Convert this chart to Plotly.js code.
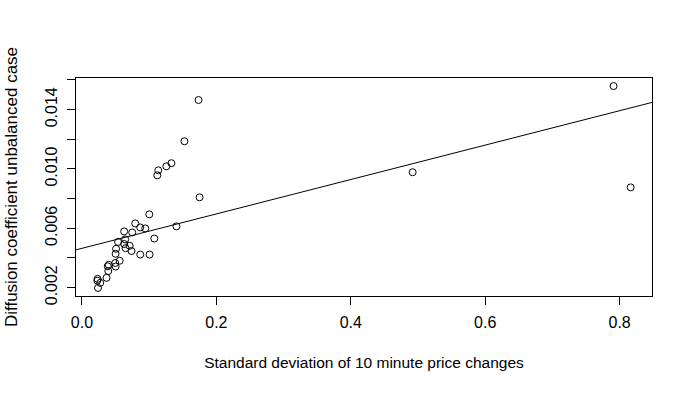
<!DOCTYPE html>
<html>
<head>
<meta charset="utf-8">
<script src="https://cdn.plot.ly/plotly-3.0.1.min.js"></script>
<style>
  html, body { margin: 0; padding: 0; background: #fff; }
  #chart { width: 692px; height: 393px; }
</style>
</head>
<body>
<div id="chart"></div>
<script>
  // standard deviation of 10 minute price changes
  const sdChanges = [
    0.1735, 0.1525, 0.1331, 0.1256, 0.1136, 0.1121, 0.1750,
    0.7910, 0.8164, 0.4920,
    0.1002, 0.0793, 0.0867, 0.0942, 0.1406, 0.0628, 0.0748, 0.1077, 0.0643, 0.0538,
    0.0628, 0.0710, 0.0508, 0.0650, 0.0737, 0.0501, 0.0867, 0.1006, 0.0561, 0.0496,
    0.0399, 0.0384, 0.0501, 0.0392, 0.0366, 0.0233, 0.0229, 0.0272, 0.0239,
  ];
  // diffusion coefficient, unbalanced case
  const diffCoef = [
    0.01465, 0.01187, 0.01039, 0.01018, 0.00991, 0.00957, 0.00809,
    0.01559, 0.00876, 0.00978,
    0.00694, 0.00633, 0.00606, 0.00599, 0.00613, 0.00579, 0.00572, 0.00531, 0.00525, 0.00508,
    0.00494, 0.00482, 0.00462, 0.00466, 0.00447, 0.00428, 0.00423, 0.00423, 0.00381, 0.00366,
    0.00354, 0.00344, 0.00342, 0.00312, 0.00266, 0.00259, 0.00247, 0.00232, 0.00198,
  ];
  // fitted line (abline)
  const fitIntercept = 0.00465;
  const fitSlope = 0.0116;

  const xTickVals = [0, 0.2, 0.4, 0.6, 0.8];
  const xTickText = ["0.0", "0.2", "0.4", "0.6", "0.8"];
  const yTickVals = [0.002, 0.004, 0.006, 0.008, 0.010, 0.012, 0.014, 0.016];
  const yTickText = ["0.002", "", "0.006", "", "0.010", "", "0.014", ""];

  // R style 4% padding
  function padRange(v) {
    const lo = Math.min(...v), hi = Math.max(...v);
    const d = (hi - lo) * 0.04;
    return [lo - d, hi + d];
  }
  const xRange = padRange(sdChanges);
  const yRange = padRange(diffCoef);

  const font = "Liberation Sans, Arial, sans-serif";

  const points = {
    x: sdChanges,
    y: diffCoef,
    type: "scatter",
    mode: "markers",
    marker: { symbol: "circle-open", size: 7, color: "#000", line: { width: 1, color: "#000" } },
    hoverinfo: "x+y",
  };
  const fit = {
    x: xRange,
    y: xRange.map((x) => fitIntercept + fitSlope * x),
    type: "scatter",
    mode: "lines",
    line: { color: "#000", width: 1 },
    hoverinfo: "skip",
  };

  const axisBase = {
    showgrid: false,
    zeroline: false,
    showline: true,
    mirror: true,
    linecolor: "#000",
    linewidth: 1,
    ticks: "outside",
    ticklen: 8,
    tickcolor: "#000",
    tickwidth: 1,
    tickfont: { family: font, size: 16, color: "#000" },
  };

  const layout = {
    width: 692,
    height: 393,
    margin: { l: 76, r: 40, t: 78, b: 97 },
    paper_bgcolor: "#fff",
    plot_bgcolor: "#fff",
    showlegend: false,
    xaxis: {
      ...axisBase,
      range: xRange,
      tickvals: xTickVals,
      ticktext: xTickText,
      ticklabelstandoff: 4,
      title: { text: "Standard deviation of 10 minute price changes", font: { family: font, size: 15.5, color: "#000" }, standoff: 26 },
    },
    yaxis: {
      ...axisBase,
      range: yRange,
      tickvals: yTickVals,
      ticktext: yTickText,
      tickangle: -90,
      ticklabelstandoff: 4,
      title: { text: "Diffusion coefficient unbalanced case", font: { family: font, size: 17, color: "#000" }, standoff: 20 },
    },
  };

  Plotly.newPlot("chart", [fit, points], layout, { displayModeBar: false, staticPlot: true });
</script>
</body>
</html>
